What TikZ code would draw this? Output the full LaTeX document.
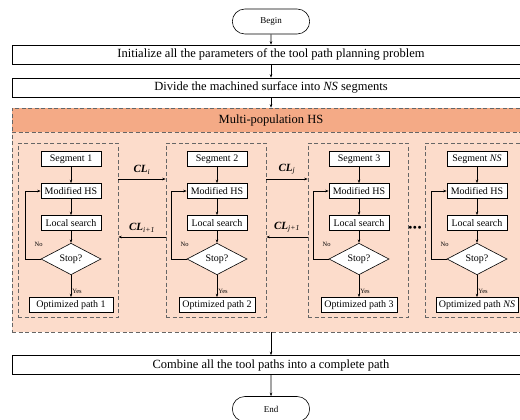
\documentclass[tikz,border=0pt]{standalone}
\usepackage{fontspec}
\setmainfont{Liberation Serif}
\usetikzlibrary{shapes.geometric,shapes.misc,calc,arrows.meta}
\definecolor{hshead}{HTML}{F4AA86}
\definecolor{hsbody}{HTML}{FCDCCB}
\newcommand{\CLlab}[1]{\textbf{\textit{CL}}\textsubscript{\textit{#1}}}

\begin{document}
\begin{tikzpicture}[x=1pt, y=-1pt, line width=0.6pt,
  node distance = 32pt,
  bigbox/.style  = {rectangle, draw, fill=white, minimum width=518pt, minimum height=19pt, inner sep=0pt, font=\fontsize{12.5}{14}\selectfont},
  term/.style    = {rounded rectangle, draw, fill=white, minimum width=84pt, minimum height=25pt, font=\fontsize{9}{10}\selectfont},
  stepbox/.style = {rectangle, draw, fill=white, minimum width=60pt, minimum height=15pt, inner sep=2pt, font=\fontsize{10}{11}\selectfont},
  optbox/.style  = {stepbox, minimum width=76pt, inner sep=3pt},
  test/.style    = {diamond, draw, fill=white, minimum width=60pt, minimum height=25pt, inner sep=0pt, font=\fontsize{10}{11}\selectfont},
  colbox/.style  = {rectangle, draw=black!60, dash pattern=on 4pt off 2.5pt, minimum width=100pt, minimum height=174pt},
  outbox/.style  = {rectangle, draw=black!60, dash pattern=on 4pt off 2.5pt, minimum width=518pt},
  tiny/.style    = {font=\fontsize{6.5}{7}\selectfont, inner sep=1pt},
  cl/.style      = {above=1pt, font=\fontsize{11}{12}\selectfont},
  arrow/.style   = {-{Stealth[length=3.5pt,width=2.5pt]}},
  ]
  \useasboundingbox (0,0) rectangle (520,420);
  % main flow
  \node[term] (begin) at (271,21.5) {Begin};
  \node[bigbox] (init) at (271,54.5) {Initialize all the parameters of the tool path planning problem};
  \node[bigbox] (divide) at (271,87.5) {Divide the machined surface into \textit{NS} segments};
  \node[outbox, fill=hsbody, minimum height=224pt] (mphs) at (271,220) {};
  \node[outbox, fill=hshead, minimum height=24pt, font=\fontsize{12.5}{14}\selectfont] (mphshead) at (271,120) {Multi-population HS};
  \node[bigbox] (combine) at (271,365) {Combine all the tool paths into a complete path};
  \node[term] (end) at (271,409) {End};
  % segment columns
  \node[colbox] (col1) at (68,230) {};
  \node[colbox] (col2) at (216,230) {};
  \node[colbox] (col3) at (358,230) {};
  \node[colbox] (col4) at (475,230) {};
  \node[stepbox] (seg1) at (71,159) {Segment 1};
  \node[stepbox, below of=seg1] (mhs1) {Modified HS};
  \node[stepbox, below of=mhs1] (ls1) {Local search};
  \node[test, below of=ls1, node distance=36pt] (stop1) {Stop?};
  \node[optbox, below of=stop1, node distance=46pt, minimum width=84pt] (opt1) {Optimized path 1};
  \node[stepbox] (seg2) at (217,159) {Segment 2};
  \node[stepbox, below of=seg2] (mhs2) {Modified HS};
  \node[stepbox, below of=mhs2] (ls2) {Local search};
  \node[test, below of=ls2, node distance=36pt] (stop2) {Stop?};
  \node[optbox, below of=stop2, node distance=46pt] (opt2) {Optimized path 2};
  \node[stepbox] (seg3) at (359,159) {Segment 3};
  \node[stepbox, below of=seg3] (mhs3) {Modified HS};
  \node[stepbox, below of=mhs3] (ls3) {Local search};
  \node[test, below of=ls3, node distance=36pt] (stop3) {Stop?};
  \node[optbox, below of=stop3, node distance=46pt] (opt3) {Optimized path 3};
  \node[stepbox] (seg4) at (477,159) {Segment \textit{NS}};
  \node[stepbox, below of=seg4] (mhs4) {Modified HS};
  \node[stepbox, below of=mhs4] (ls4) {Local search};
  \node[test, below of=ls4, node distance=36pt] (stop4) {Stop?};
  \node[optbox, below of=stop4, node distance=46pt] (opt4) {Optimized path \textit{NS}};
  \node[font=\fontsize{7}{7}\selectfont] (dots) at (415,228) {$\bullet\!\bullet\!\bullet$};
  % connectors
  \draw[arrow] (begin) -- (init);
  \draw[arrow] (init) -- (divide);
  \draw[arrow] (divide) -- (mphshead);
  \draw[arrow] (mphs) -- (combine);
  \draw[arrow] (combine) -- (end);
  \foreach \k in {1,...,4} {
    \draw[arrow] (seg\k) -- (mhs\k);
    \draw[arrow] (mhs\k) -- (ls\k);
    \draw[arrow] (ls\k) -- (stop\k);
    \draw[arrow] (stop\k) -- node[tiny, pos=0.75, right] {Yes} (opt\k);
    \draw[arrow] (stop\k.west) -- ++(-15pt,0pt) |- (mhs\k.west);
    \node[tiny] at ($(stop\k.west)+(-2pt,15pt)$) {No};
  }
  % communication between populations
  \draw[arrow] ([yshift=51pt]col1.east) -- node[cl] {\CLlab{i}} ([yshift=51pt]col2.west);
  \draw[arrow] ([yshift=-7pt]col2.west) -- node[cl] {\CLlab{i+1}} ([yshift=-7pt]col1.east);
  \draw[arrow] ([yshift=51pt]col2.east) -- node[cl] {\CLlab{j}} ([yshift=51pt]col3.west);
  \draw[arrow] ([yshift=-7pt]col3.west) -- node[cl] {\CLlab{j+1}} ([yshift=-7pt]col2.east);
\end{tikzpicture}
\end{document}
